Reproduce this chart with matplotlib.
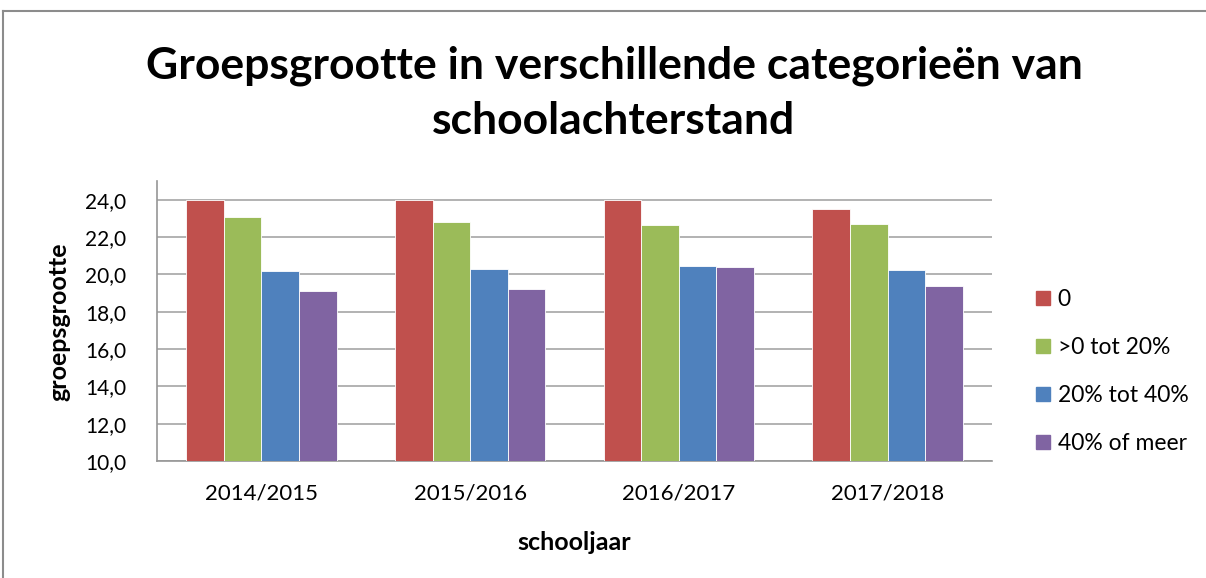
import numpy as np
import matplotlib
matplotlib.use("Agg")
import matplotlib.pyplot as plt
from matplotlib.ticker import FuncFormatter
from matplotlib.lines import Line2D

# data
years = ["2014/2015", "2015/2016", "2016/2017", "2017/2018"]
series = ["0", ">0 tot 20%", "20% tot 40%", "40% of meer"]
val_0 = [24.0, 24.0, 24.0, 23.5]
val_0_20 = [23.05, 22.8, 22.65, 22.7]
val_20_40 = [20.2, 20.3, 20.45, 20.25]
val_40 = [19.1, 19.2, 20.4, 19.4]
colors = ["#C0504D", "#9BBB59", "#4F81BD", "#8064A2"]

plt.rcParams['font.family'] = ['Lato', 'DejaVu Sans']

W, H = 1206, 578
fig = plt.figure(figsize=(W / 100, H / 100), dpi=100)

# plot area in pixels: x 157..992, y 181..461
ax = fig.add_axes([157 / W, 1 - 461 / H, (992 - 157) / W, (461 - 181) / H])

x = np.arange(len(years))
bw = 0.18
for i, (vals, c) in enumerate(zip([val_0, val_0_20, val_20_40, val_40], colors)):
    ax.bar(x + (i - 1.5) * bw, vals, width=bw, color=c, edgecolor="white",
           linewidth=0.6, label=series[i], zorder=3)

ax.set_xlim(-0.5, len(years) - 0.5)
ax.set_ylim(10, 25)
ax.set_yticks(np.arange(10, 25, 2))
ax.yaxis.set_major_formatter(FuncFormatter(lambda v, p: f"{v:.1f}".replace(".", ",")))
ax.set_xticks(x)
ax.set_xticklabels(years)
ax.tick_params(axis="both", length=0, colors="black")
ax.tick_params(axis="x", pad=16, labelsize=16)
ax.tick_params(axis="y", pad=22, labelsize=15)
ax.grid(axis="y", color="#a6a6a6", linewidth=1.2, zorder=0)
for s in ["top", "right"]:
    ax.spines[s].set_visible(False)
for s in ["left", "bottom"]:
    ax.spines[s].set_color("#969696")
    ax.spines[s].set_linewidth(1.2)

ax.set_xlabel("schooljaar", fontsize=18, fontweight="bold", labelpad=20)
fig.text(59 / W, 1 - 322 / H, "groepsgrootte", rotation=90, fontsize=18,
         fontweight="bold", ha="center", va="center")

fig.text(614 / W, 1 - 66 / H, "Groepsgrootte in verschillende categorieën van",
         fontsize=32, fontweight="bold", ha="center", va="center")
fig.text(614 / W, 1 - 121 / H, "schoolachterstand",
         fontsize=32, fontweight="bold", ha="center", va="center")

handles = [Line2D([], [], marker="s", linestyle="", markersize=10,
                  markerfacecolor=c, markeredgecolor=c) for c in colors]
fig.legend(handles, series, loc="upper left", bbox_to_anchor=(1022 / W, 1 - 280 / H),
           frameon=False, fontsize=16.5, handletextpad=0.15, labelspacing=1.18,
           handlelength=1.0, borderaxespad=0)

# outer chart border (only top and left visible in the crop)
fig.add_artist(Line2D([3 / W, 1], [1 - 11 / H, 1 - 11 / H], color="#8c8c8c", linewidth=1.5))
fig.add_artist(Line2D([3 / W, 3 / W], [0, 1 - 11 / H], color="#8c8c8c", linewidth=1.5))

fig.savefig("out.png", dpi=100)
